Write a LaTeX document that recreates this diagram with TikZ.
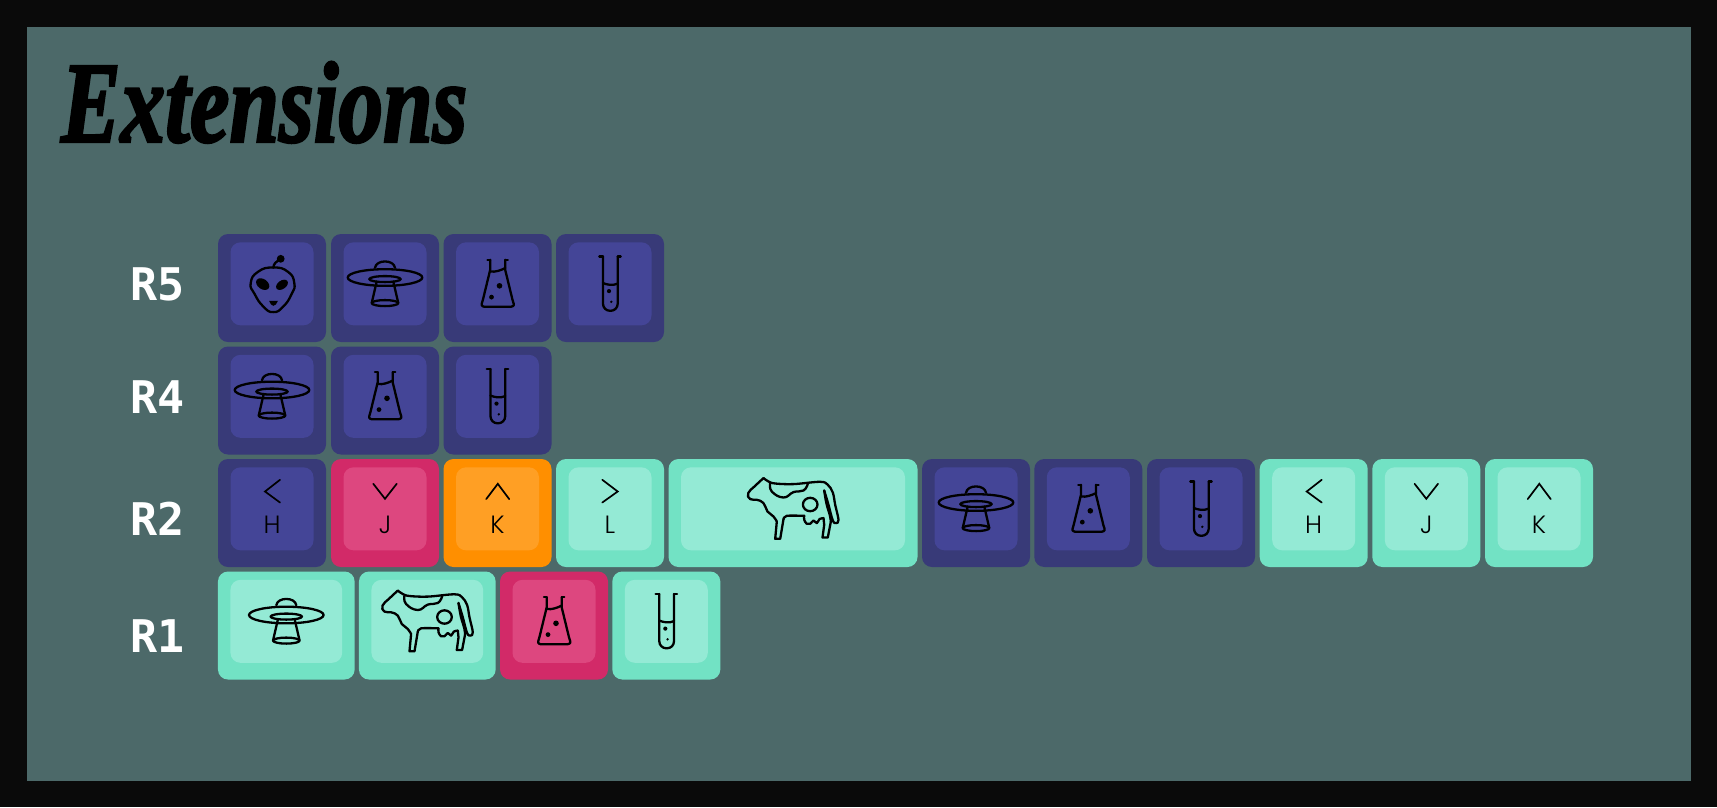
\documentclass[tikz,border=0pt]{standalone}
\usepackage{fontspec}
\newfontfamily\titlefont[UprightFont=* Bold Italic,FakeBold=2.5]{Liberation Serif}
\newfontfamily\rowfont[UprightFont=* Bold]{DejaVu Sans Mono}
\newfontfamily\letterfont[UprightFont=* Light]{Poppins}
\definecolor{framecol}{HTML}{0A0A0A}
\definecolor{panelcol}{HTML}{4C6969}
\definecolor{indigobase}{HTML}{383A78}
\definecolor{indigoface}{HTML}{444597}
\definecolor{pinkbase}{HTML}{D22A68}
\definecolor{pinkface}{HTML}{DD477F}
\definecolor{orangebase}{HTML}{FF8F00}
\definecolor{orangeface}{HTML}{FF9F24}
\definecolor{tealbase}{HTML}{72E2C4}
\definecolor{tealface}{HTML}{94EAD5}
\tikzset{
    keybase/.style 2 args={fill=#1,rounded corners=10pt,inner sep=0pt,minimum height=108pt,minimum width=#2pt},
    keyface/.style 2 args={fill=#1,rounded corners=10pt,inner sep=0pt,minimum height=83pt,minimum width=#2pt-25pt,yshift=4.2pt},
    rowlabel/.style={anchor=base,text=white,font=\rowfont\fontsize{45}{45}\selectfont},
    keyletter/.style={anchor=base,text=black,yshift=-74.3pt,font=\letterfont\fontsize{25}{25}\selectfont},
    iconline/.style={draw=black,line width=2.3pt,line join=round,line cap=round},
    chevline/.style={draw=black,line width=1.7pt,line join=miter,line cap=round},
    pics/alien/.style={code={
        \draw[iconline] plot[smooth cycle,tension=0.9] coordinates {(1.3,33.7) (16,38) (22.3,49.3) (19.7,60) (11.3,72.7) (1.3,78.3) (-8.7,72.7) (-17.5,60) (-21.3,49.3) (-14,38)};
        \draw[iconline] (1.3,34) .. controls (1.5,30) and (4,28) .. (8.7,25);
        \fill (8.7,25) circle (3.9pt);
        \fill[rotate around={-35:(-9.3,50.3)}] (-9.3,50.3) ellipse (7.3pt and 5pt);
        \fill[rotate around={35:(10,51)}] (10,51) ellipse (6.6pt and 4.2pt);
        \fill (-3,67) -- (6,67) .. controls (5,70) and (3,72) .. (1.3,72) .. controls (0,72) and (-2,70) .. (-3,67) -- cycle;
    }},
    pics/ufo/.style={code={
        \draw[iconline] (-10,34) .. controls (-9,25.5) and (9,25.5) .. (10,34);
        \draw[iconline] (0,43.7) ellipse (37.3pt and 8.3pt);
        \draw[iconline] (0,45.3) ellipse (15.7pt and 3pt);
        \draw[iconline] (-8.3,47.7) -- (-13.3,69.3);
        \draw[iconline] (8.3,47.7) -- (13.3,69.3);
        \draw[iconline] (0,69.3) ellipse (13.3pt and 3pt);
    }},
    pics/flask/.style={code={
        \draw[iconline] (-10,26) -- (-7.3,26);
        \draw[iconline] (7.7,26) -- (10.3,26);
        \draw[iconline] (-7.3,26) -- (-7.3,36) -- (-14.6,66) .. controls (-16.5,72) .. (-13,73) -- (13.3,73) .. controls (17,72) .. (15,66) -- (7.7,36) -- (7.7,26);
        \draw[iconline] (-7.3,37.7) .. controls (-2,38.5) and (3,36.5) .. (7.7,34.3);
        \fill (2,52) circle (2.8pt);
        \fill (-6,63.3) circle (2.4pt);
    }},
    pics/tube/.style={code={
        \draw[iconline] (-10.7,22.7) -- (-7,22.7);
        \draw[iconline] (7.7,22.7) -- (10.7,22.7);
        \draw[iconline,rounded corners=7pt] (-7,22.7) -- (-7,77) -- (7.7,77) -- (7.7,22.7);
        \draw[iconline] (-7,49.3) .. controls (-3,51) and (3,52) .. (7.7,49.8);
        \fill (-1,57.3) circle (2.1pt);
        \fill (1.3,68) circle (1.3pt);
    }},
    pics/cow/.style={code={
        \draw[iconline] plot[smooth,tension=0.6] coordinates {(-29.5,19.3) (-24.5,22.7) (-17.8,24.7) (0.5,25.3) (27.2,23) (34.8,26) (39.8,33.7) (42.2,46) (45.5,61) (43.2,64.3) (39.8,61.7) (35.5,46) (31.2,31.7)};
        \draw[iconline] plot[smooth,tension=0.6] coordinates {(31.2,31.7) (33.5,45) (37,57) (37.8,63)};
        \draw[iconline] (37.8,63) -- (34.8,78.7) -- (29.5,78.7) -- (31.2,66) -- (30.5,59.3);
        \draw[iconline] plot[smooth,tension=0.6] coordinates {(30.5,59.3) (26.5,60.3) (23.8,64.3) (20.5,61.7) (17.2,65) (13.8,65) (11.2,61) (11.2,57)};
        \draw[iconline] plot[smooth,tension=0.5] coordinates {(11.2,57) (-6.2,57) (-9.5,60.3)};
        \draw[iconline] (-9.5,60.3) -- (-12.8,80) -- (-17.8,80) -- (-16.2,62.7);
        \draw[iconline] plot[smooth,tension=0.8] coordinates {(-16.2,62.7) (-19.5,57.7) (-25.5,52.7) (-29.5,44.3) (-36.2,41) (-42.8,40.3) (-44.8,34.3) (-37.8,27) (-29.5,19.3)};
        \draw[iconline] plot[smooth,tension=0.8] coordinates {(-22.8,24.3) (-21.2,32.7) (-9.5,38.7) (0.5,33.3) (10.5,31.7) (14.8,25)};
        \draw[iconline] (17.2,45.7) ellipse (7.3pt and 6.7pt);
    }},
    pics/chevleft/.style={code={\draw[chevline] (8,21) -- (-7,32.7) -- (8,43.7);}},
    pics/chevdown/.style={code={\draw[chevline] (-11.7,25) -- (0,40) -- (11.7,25);}},
    pics/chevup/.style={code={\draw[chevline] (-11.3,40.3) -- (0.3,25) -- (11.7,40.3);}},
    pics/chevright/.style={code={\draw[chevline] (-7.7,21) -- (7.7,32.7) -- (-7.7,43.7);}},
}
\begin{document}
\begin{tikzpicture}[x=1pt,y=-1pt]
    \useasboundingbox (0,0) rectangle (1717,807);
    \fill[framecol] (0,0) rectangle (1717,807);
    \fill[panelcol] (26.5,26.5) rectangle (1691,781);

    \node[anchor=base west,inner sep=0pt,text=black,transform shape,xscale=0.775,font=\titlefont\fontsize{115}{115}\selectfont] (title) at (61,141.7) {Extensions};

    \node[rowlabel] (labelfive) at (158,300.7) {R5};
    \node[rowlabel] (labelfour) at (158,413) {R4};
    \node[rowlabel] (labeltwo) at (158,535) {R2};
    \node[rowlabel] (labelone) at (157.5,652.3) {R1};

    % row 5
    \node[keybase={indigobase}{108}] (fivealien) at (272,288) {};
        \node[keyface={indigoface}{108}] (fivealienface) at (fivealien) {};
        \pic at (fivealien.north) {alien};
    \node[keybase={indigobase}{108}] (fiveufo) at (385,288) {};
        \node[keyface={indigoface}{108}] (fiveufoface) at (fiveufo) {};
        \pic at (fiveufo.north) {ufo};
    \node[keybase={indigobase}{108}] (fiveflask) at (497.5,288) {};
        \node[keyface={indigoface}{108}] (fiveflaskface) at (fiveflask) {};
        \pic at (fiveflask.north) {flask};
    \node[keybase={indigobase}{108}] (fivetube) at (610,288) {};
        \node[keyface={indigoface}{108}] (fivetubeface) at (fivetube) {};
        \pic at (fivetube.north) {tube};

    % row 4
    \node[keybase={indigobase}{108}] (fourufo) at (272,400.5) {};
        \node[keyface={indigoface}{108}] (fourufoface) at (fourufo) {};
        \pic at (fourufo.north) {ufo};
    \node[keybase={indigobase}{108}] (fourflask) at (385,400.5) {};
        \node[keyface={indigoface}{108}] (fourflaskface) at (fourflask) {};
        \pic at (fourflask.north) {flask};
    \node[keybase={indigobase}{108}] (fourtube) at (497.5,400.5) {};
        \node[keyface={indigoface}{108}] (fourtubeface) at (fourtube) {};
        \pic at (fourtube.north) {tube};

    % row 2
    \node[keybase={indigobase}{108}] (twoh) at (272,513) {};
        \node[keyface={indigoface}{108}] (twohface) at (twoh) {};
        \pic at (twoh.north) {chevleft};
        \node[keyletter] (twohtext) at (twoh.north) {H};
    \node[keybase={pinkbase}{108}] (twoj) at (385,513) {};
        \node[keyface={pinkface}{108}] (twojface) at (twoj) {};
        \pic at (twoj.north) {chevdown};
        \node[keyletter] (twojtext) at (twoj.north) {J};
    \node[keybase={orangebase}{108}] (twok) at (497.5,513) {};
        \node[keyface={orangeface}{108}] (twokface) at (twok) {};
        \pic at (twok.north) {chevup};
        \node[keyletter] (twoktext) at (twok.north) {K};
    \node[keybase={tealbase}{108}] (twol) at (610,513) {};
        \node[keyface={tealface}{108}] (twolface) at (twol) {};
        \pic at (twol.north) {chevright};
        \node[keyletter] (twoltext) at (twol.north) {L};
    \node[keybase={tealbase}{249}] (twocow) at (793,513) {};
        \node[keyface={tealface}{249}] (twocowface) at (twocow) {};
        \pic at (twocow.north) {cow};
    \node[keybase={indigobase}{108}] (twoufo) at (976,513) {};
        \node[keyface={indigoface}{108}] (twoufoface) at (twoufo) {};
        \pic at (twoufo.north) {ufo};
    \node[keybase={indigobase}{108}] (twoflask) at (1088.3,513) {};
        \node[keyface={indigoface}{108}] (twoflaskface) at (twoflask) {};
        \pic at (twoflask.north) {flask};
    \node[keybase={indigobase}{108}] (twotube) at (1201,513) {};
        \node[keyface={indigoface}{108}] (twotubeface) at (twotube) {};
        \pic at (twotube.north) {tube};
    \node[keybase={tealbase}{108}] (twohb) at (1313.7,513) {};
        \node[keyface={tealface}{108}] (twohbface) at (twohb) {};
        \pic at (twohb.north) {chevleft};
        \node[keyletter] (twohbtext) at (twohb.north) {H};
    \node[keybase={tealbase}{108}] (twojb) at (1426.3,513) {};
        \node[keyface={tealface}{108}] (twojbface) at (twojb) {};
        \pic at (twojb.north) {chevdown};
        \node[keyletter] (twojbtext) at (twojb.north) {J};
    \node[keybase={tealbase}{108}] (twokb) at (1539,513) {};
        \node[keyface={tealface}{108}] (twokbface) at (twokb) {};
        \pic at (twokb.north) {chevup};
        \node[keyletter] (twokbtext) at (twokb.north) {K};

    % row 1
    \node[keybase={tealbase}{136.7}] (oneufo) at (286.3,625.5) {};
        \node[keyface={tealface}{136.7}] (oneufoface) at (oneufo) {};
        \pic at (oneufo.north) {ufo};
    \node[keybase={tealbase}{136.7}] (onecow) at (427.3,625.5) {};
        \node[keyface={tealface}{136.7}] (onecowface) at (onecow) {};
        \pic at (onecow.north) {cow};
    \node[keybase={pinkbase}{108}] (oneflask) at (554,625.5) {};
        \node[keyface={pinkface}{108}] (oneflaskface) at (oneflask) {};
        \pic at (oneflask.north) {flask};
    \node[keybase={tealbase}{108}] (onetube) at (666.3,625.5) {};
        \node[keyface={tealface}{108}] (onetubeface) at (onetube) {};
        \pic at (onetube.north) {tube};
\end{tikzpicture}
\end{document}
